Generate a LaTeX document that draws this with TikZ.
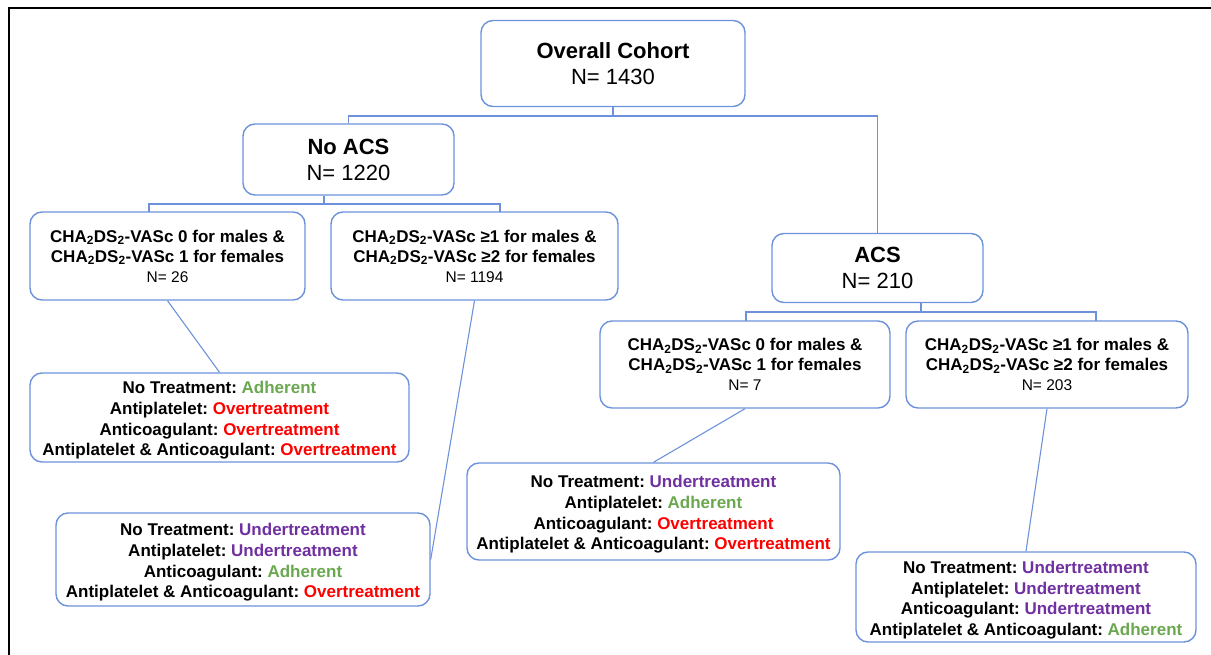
\documentclass[tikz,border=0pt]{standalone}
\usepackage{fontspec}
\setmainfont{Liberation Sans}
\usepackage{tikz}
\usetikzlibrary{calc,positioning}

\definecolor{boxblue}{RGB}{109,146,219}
\definecolor{adhgreen}{RGB}{106,168,79}
\definecolor{overred}{RGB}{255,0,0}
\definecolor{underpurple}{RGB}{112,48,160}

\newcommand{\cha}{CHA\textsubscript{2}DS\textsubscript{2}-VASc}
\newcommand{\adhere}{\textcolor{adhgreen}{Adherent}}
\newcommand{\overtx}{\textcolor{overred}{Overtreatment}}
\newcommand{\undertx}{\textcolor{underpurple}{Undertreatment}}
\newcommand{\nsmall}[1]{{\mdseries\fontsize{15.5}{20}\selectfont N= #1}}
\frenchspacing

\tikzset{
	box/.style={draw=boxblue,line width=1.4pt,rounded corners=12pt,align=center,inner sep=0pt},
	big/.style={box,font=\fontsize{22}{26}\selectfont},
	crit/.style={box,font=\fontsize{17}{20}\selectfont\bfseries},
	treat/.style={box,font=\fontsize{17}{20.6}\selectfont\bfseries,text height=80pt},
	link/.style={draw=boxblue,line width=1.1pt}
}

\begin{document}
\begin{tikzpicture}[x=1pt,y=-1pt]
		\useasboundingbox (0,0) rectangle (1211,655);
		\draw[line width=2pt] (9,655) |- (1211,8);
		\begin{scope}
			\node(1) [big,minimum width=264pt,minimum height=86pt] at (613,63.5) {\textbf{Overall Cohort}\\N= 1430};
			\node(2) [big,minimum width=211pt,minimum height=71pt] at (348.5,159.5) {\textbf{No ACS}\\N= 1220};
			\node(3) [big,minimum width=211pt,minimum height=69pt] at (877.5,268) {\textbf{ACS}\\N= 210};
			\node(4) [crit,minimum width=275pt,minimum height=88pt] at (167.5,256) {\cha{} 0 for males \&\\\cha{} 1 for females\\\nsmall{26}};
			\node(5) [crit,minimum width=287pt,minimum height=88pt] at (474.5,256) {\cha{} ≥1 for males \&\\\cha{} ≥2 for females\\\nsmall{1194}};
			\node(8) [crit,minimum width=290pt,minimum height=87pt] at (745,364.5) {\cha{} 0 for males \&\\\cha{} 1 for females\\\nsmall{7}};
			\node(9) [crit,minimum width=282pt,minimum height=87pt] at (1047,364.5) {\cha{} ≥1 for males \&\\\cha{} ≥2 for females\\\nsmall{203}};
			\node(6) [treat,minimum width=379pt,minimum height=89pt] at (219.5,417.5) {No Treatment: \adhere\\Antiplatelet: \overtx\\Anticoagulant: \overtx\\Antiplatelet \& Anticoagulant: \overtx};
			\node(7) [treat,minimum width=374pt,minimum height=93pt] at (243,559.5) {No Treatment: \undertx\\Antiplatelet: \undertx\\Anticoagulant: \adhere\\Antiplatelet \& Anticoagulant: \overtx};
			\node(10) [treat,minimum width=373pt,minimum height=97pt] at (653.5,511.5) {No Treatment: \undertx\\Antiplatelet: \adhere\\Anticoagulant: \overtx\\Antiplatelet \& Anticoagulant: \overtx};
			\node(11) [treat,minimum width=340pt,minimum height=90pt] at (1026,597) {No Treatment: \undertx\\Antiplatelet: \undertx\\Anticoagulant: \undertx\\Antiplatelet \& Anticoagulant: \adhere};
			% elbow joints
			\coordinate (j1) at (613,116);
			\coordinate (j2) at (324,204);
			\coordinate (j2a) at (149,212);
			\coordinate (j2b) at (500,212);
			\coordinate (j3) at (921,312);
			\coordinate (j3a) at (746,321);
			\coordinate (j3b) at (1096,321);
			\draw[link] (1.south) -- (j1);
			\draw[link] (2.north) |- (j1) -| (3.north);
			\draw[link] (j2 |- 2.south) -- (j2);
			\draw[link] (j2a) |- (j2) -| (j2b);
			\draw[link] (j3 |- 3.south) -- (j3);
			\draw[link] (j3a) |- (j3) -| (j3b);
			\path[link]
				(4.south) edge (6.north)
				(5.south) edge (7.east)
				(8.south) edge (10.north)
				(9.south) edge (11.north);
		\end{scope}
	\end{tikzpicture}
\end{document}
